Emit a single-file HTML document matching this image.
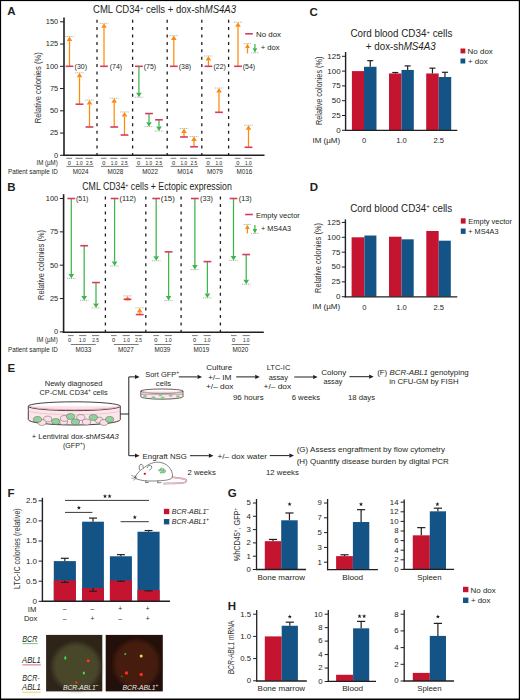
<!DOCTYPE html>
<html><head><meta charset="utf-8"><style>
html,body{margin:0;padding:0;background:#fff;}
svg{display:block;}
text{font-family:"Liberation Sans", sans-serif;}
</style></head><body>
<svg width="520" height="700" viewBox="0 0 520 700" fill="#231f20" font-family='"Liberation Sans", sans-serif'>
<rect x="0" y="0" width="520" height="700" fill="#fff"/>
<text x="7.20" y="15.34" font-size="11.5" font-weight="bold" >A</text>
<text x="93.00" y="13.40" font-size="10" textLength="143.00" lengthAdjust="spacingAndGlyphs" >CML CD34<tspan dy="-3.6" font-size="6.2">+</tspan><tspan dy="3.6"> cells + dox-sh</tspan><tspan font-style="italic">MS4A3</tspan></text>
<line x1="64.00" y1="17.50" x2="64.00" y2="155.80" stroke="#231f20" stroke-width="1.6" />
<line x1="63.20" y1="155.30" x2="264.50" y2="155.30" stroke="#231f20" stroke-width="1.6" />
<line x1="60.00" y1="155.30" x2="64.00" y2="155.30" stroke="#231f20" stroke-width="1" />
<text x="58.20" y="157.70" font-size="8" text-anchor="end" textLength="4.13" lengthAdjust="spacingAndGlyphs" >0</text>
<line x1="60.00" y1="133.05" x2="64.00" y2="133.05" stroke="#231f20" stroke-width="1" />
<text x="58.20" y="135.45" font-size="8" text-anchor="end" textLength="8.26" lengthAdjust="spacingAndGlyphs" >25</text>
<line x1="60.00" y1="110.80" x2="64.00" y2="110.80" stroke="#231f20" stroke-width="1" />
<text x="58.20" y="113.20" font-size="8" text-anchor="end" textLength="8.26" lengthAdjust="spacingAndGlyphs" >50</text>
<line x1="60.00" y1="88.55" x2="64.00" y2="88.55" stroke="#231f20" stroke-width="1" />
<text x="58.20" y="90.95" font-size="8" text-anchor="end" textLength="8.26" lengthAdjust="spacingAndGlyphs" >75</text>
<line x1="60.00" y1="66.30" x2="64.00" y2="66.30" stroke="#231f20" stroke-width="1" />
<text x="58.20" y="68.70" font-size="8" text-anchor="end" textLength="12.39" lengthAdjust="spacingAndGlyphs" >100</text>
<line x1="60.00" y1="44.05" x2="64.00" y2="44.05" stroke="#231f20" stroke-width="1" />
<text x="58.20" y="46.45" font-size="8" text-anchor="end" textLength="12.39" lengthAdjust="spacingAndGlyphs" >125</text>
<line x1="60.00" y1="21.80" x2="64.00" y2="21.80" stroke="#231f20" stroke-width="1" />
<text x="58.20" y="24.20" font-size="8" text-anchor="end" textLength="12.39" lengthAdjust="spacingAndGlyphs" >150</text>
<text x="37.50" y="90.82" font-size="8.4" text-anchor="middle" textLength="71.00" lengthAdjust="spacingAndGlyphs" fill="#333" transform="rotate(-90 37.50 87.80)" >Relative colonies (%)</text>
<line x1="97.00" y1="19.70" x2="97.00" y2="155.00" stroke="#231f20" stroke-width="1.3" stroke-dasharray="3 4.4"/>
<line x1="132.60" y1="19.70" x2="132.60" y2="155.00" stroke="#231f20" stroke-width="1.3" stroke-dasharray="3 4.4"/>
<line x1="167.20" y1="19.70" x2="167.20" y2="155.00" stroke="#231f20" stroke-width="1.3" stroke-dasharray="3 4.4"/>
<line x1="201.80" y1="19.70" x2="201.80" y2="155.00" stroke="#231f20" stroke-width="1.3" stroke-dasharray="3 4.4"/>
<line x1="228.60" y1="19.70" x2="228.60" y2="155.00" stroke="#231f20" stroke-width="1.3" stroke-dasharray="3 4.4"/>
<line x1="65.20" y1="36.49" x2="73.80" y2="36.49" stroke="#a0a0a0" stroke-width="0.8" stroke-dasharray="1.2 0.8"/>
<line x1="69.50" y1="66.30" x2="69.50" y2="40.99" stroke="#ff8a0a" stroke-width="1.25" />
<path d="M66.70,40.99 L72.30,40.99 L69.50,36.49 Z" fill="#ff8a0a"/>
<line x1="65.60" y1="66.30" x2="73.40" y2="66.30" stroke="#d93b60" stroke-width="1.6" />
<line x1="75.20" y1="72.80" x2="83.80" y2="72.80" stroke="#a0a0a0" stroke-width="0.8" stroke-dasharray="1.2 0.8"/>
<line x1="79.50" y1="104.21" x2="79.50" y2="77.30" stroke="#ff8a0a" stroke-width="1.25" />
<path d="M76.70,77.30 L82.30,77.30 L79.50,72.80 Z" fill="#ff8a0a"/>
<line x1="75.60" y1="104.21" x2="83.40" y2="104.21" stroke="#d93b60" stroke-width="1.6" />
<line x1="85.20" y1="100.03" x2="93.80" y2="100.03" stroke="#a0a0a0" stroke-width="0.8" stroke-dasharray="1.2 0.8"/>
<line x1="89.50" y1="127.00" x2="89.50" y2="104.53" stroke="#ff8a0a" stroke-width="1.25" />
<path d="M86.70,104.53 L92.30,104.53 L89.50,100.03 Z" fill="#ff8a0a"/>
<line x1="85.60" y1="127.00" x2="93.40" y2="127.00" stroke="#d93b60" stroke-width="1.6" />
<line x1="99.70" y1="23.31" x2="108.30" y2="23.31" stroke="#a0a0a0" stroke-width="0.8" stroke-dasharray="1.2 0.8"/>
<line x1="104.00" y1="66.30" x2="104.00" y2="27.81" stroke="#ff8a0a" stroke-width="1.25" />
<path d="M101.20,27.81 L106.80,27.81 L104.00,23.31 Z" fill="#ff8a0a"/>
<line x1="100.10" y1="66.30" x2="107.90" y2="66.30" stroke="#d93b60" stroke-width="1.6" />
<line x1="109.90" y1="98.25" x2="118.50" y2="98.25" stroke="#a0a0a0" stroke-width="0.8" stroke-dasharray="1.2 0.8"/>
<line x1="114.20" y1="127.00" x2="114.20" y2="102.75" stroke="#ff8a0a" stroke-width="1.25" />
<path d="M111.40,102.75 L117.00,102.75 L114.20,98.25 Z" fill="#ff8a0a"/>
<line x1="110.30" y1="127.00" x2="118.10" y2="127.00" stroke="#d93b60" stroke-width="1.6" />
<line x1="120.20" y1="111.96" x2="128.80" y2="111.96" stroke="#a0a0a0" stroke-width="0.8" stroke-dasharray="1.2 0.8"/>
<line x1="124.50" y1="135.01" x2="124.50" y2="116.46" stroke="#ff8a0a" stroke-width="1.25" />
<path d="M121.70,116.46 L127.30,116.46 L124.50,111.96 Z" fill="#ff8a0a"/>
<line x1="120.60" y1="135.01" x2="128.40" y2="135.01" stroke="#d93b60" stroke-width="1.6" />
<line x1="134.60" y1="97.18" x2="143.20" y2="97.18" stroke="#a0a0a0" stroke-width="0.8" stroke-dasharray="1.2 0.8"/>
<line x1="138.90" y1="66.30" x2="138.90" y2="92.68" stroke="#3cb54a" stroke-width="1.25" />
<path d="M136.10,92.68 L141.70,92.68 L138.90,97.18 Z" fill="#3cb54a"/>
<line x1="135.00" y1="66.30" x2="142.80" y2="66.30" stroke="#d93b60" stroke-width="1.6" />
<line x1="144.70" y1="126.64" x2="153.30" y2="126.64" stroke="#a0a0a0" stroke-width="0.8" stroke-dasharray="1.2 0.8"/>
<line x1="149.00" y1="113.56" x2="149.00" y2="122.14" stroke="#3cb54a" stroke-width="1.25" />
<path d="M146.20,122.14 L151.80,122.14 L149.00,126.64 Z" fill="#3cb54a"/>
<line x1="145.10" y1="113.56" x2="152.90" y2="113.56" stroke="#d93b60" stroke-width="1.6" />
<line x1="154.70" y1="131.00" x2="163.30" y2="131.00" stroke="#a0a0a0" stroke-width="0.8" stroke-dasharray="1.2 0.8"/>
<line x1="159.00" y1="119.79" x2="159.00" y2="126.50" stroke="#3cb54a" stroke-width="1.25" />
<path d="M156.20,126.50 L161.80,126.50 L159.00,131.00 Z" fill="#3cb54a"/>
<line x1="155.10" y1="119.79" x2="162.90" y2="119.79" stroke="#d93b60" stroke-width="1.6" />
<line x1="169.50" y1="35.60" x2="178.10" y2="35.60" stroke="#a0a0a0" stroke-width="0.8" stroke-dasharray="1.2 0.8"/>
<line x1="173.80" y1="66.30" x2="173.80" y2="40.10" stroke="#ff8a0a" stroke-width="1.25" />
<path d="M171.00,40.10 L176.60,40.10 L173.80,35.60 Z" fill="#ff8a0a"/>
<line x1="169.90" y1="66.30" x2="177.70" y2="66.30" stroke="#d93b60" stroke-width="1.6" />
<line x1="179.70" y1="128.51" x2="188.30" y2="128.51" stroke="#a0a0a0" stroke-width="0.8" stroke-dasharray="1.2 0.8"/>
<line x1="184.00" y1="136.97" x2="184.00" y2="133.01" stroke="#ff8a0a" stroke-width="1.25" />
<path d="M181.20,133.01 L186.80,133.01 L184.00,128.51 Z" fill="#ff8a0a"/>
<line x1="180.10" y1="136.97" x2="187.90" y2="136.97" stroke="#d93b60" stroke-width="1.6" />
<line x1="189.70" y1="136.52" x2="198.30" y2="136.52" stroke="#a0a0a0" stroke-width="0.8" stroke-dasharray="1.2 0.8"/>
<line x1="194.00" y1="146.76" x2="194.00" y2="141.02" stroke="#ff8a0a" stroke-width="1.25" />
<path d="M191.20,141.02 L196.80,141.02 L194.00,136.52 Z" fill="#ff8a0a"/>
<line x1="190.10" y1="146.76" x2="197.90" y2="146.76" stroke="#d93b60" stroke-width="1.6" />
<line x1="204.10" y1="55.98" x2="212.70" y2="55.98" stroke="#a0a0a0" stroke-width="0.8" stroke-dasharray="1.2 0.8"/>
<line x1="208.40" y1="66.30" x2="208.40" y2="60.48" stroke="#ff8a0a" stroke-width="1.25" />
<path d="M205.60,60.48 L211.20,60.48 L208.40,55.98 Z" fill="#ff8a0a"/>
<line x1="204.50" y1="66.30" x2="212.30" y2="66.30" stroke="#d93b60" stroke-width="1.6" />
<line x1="214.70" y1="88.02" x2="223.30" y2="88.02" stroke="#a0a0a0" stroke-width="0.8" stroke-dasharray="1.2 0.8"/>
<line x1="219.00" y1="112.31" x2="219.00" y2="92.52" stroke="#ff8a0a" stroke-width="1.25" />
<path d="M216.20,92.52 L221.80,92.52 L219.00,88.02 Z" fill="#ff8a0a"/>
<line x1="215.10" y1="112.31" x2="222.90" y2="112.31" stroke="#d93b60" stroke-width="1.6" />
<line x1="233.70" y1="22.25" x2="242.30" y2="22.25" stroke="#a0a0a0" stroke-width="0.8" stroke-dasharray="1.2 0.8"/>
<line x1="238.00" y1="66.30" x2="238.00" y2="26.75" stroke="#ff8a0a" stroke-width="1.25" />
<path d="M235.20,26.75 L240.80,26.75 L238.00,22.25 Z" fill="#ff8a0a"/>
<line x1="234.10" y1="66.30" x2="241.90" y2="66.30" stroke="#d93b60" stroke-width="1.6" />
<line x1="244.20" y1="125.22" x2="252.80" y2="125.22" stroke="#a0a0a0" stroke-width="0.8" stroke-dasharray="1.2 0.8"/>
<line x1="248.50" y1="147.29" x2="248.50" y2="129.72" stroke="#ff8a0a" stroke-width="1.25" />
<path d="M245.70,129.72 L251.30,129.72 L248.50,125.22 Z" fill="#ff8a0a"/>
<line x1="244.60" y1="147.29" x2="252.40" y2="147.29" stroke="#d93b60" stroke-width="1.6" />
<text x="74.60" y="68.96" font-size="7.4" textLength="12.40" lengthAdjust="spacingAndGlyphs" >(30)</text>
<text x="109.80" y="68.96" font-size="7.4" textLength="12.40" lengthAdjust="spacingAndGlyphs" >(74)</text>
<text x="143.70" y="68.96" font-size="7.4" textLength="12.40" lengthAdjust="spacingAndGlyphs" >(75)</text>
<text x="178.70" y="68.96" font-size="7.4" textLength="12.40" lengthAdjust="spacingAndGlyphs" >(38)</text>
<text x="213.50" y="68.96" font-size="7.4" textLength="12.40" lengthAdjust="spacingAndGlyphs" >(22)</text>
<text x="242.80" y="68.96" font-size="7.4" textLength="12.40" lengthAdjust="spacingAndGlyphs" >(54)</text>
<line x1="245.15" y1="33.80" x2="252.85" y2="33.80" stroke="#d93b60" stroke-width="1.6" />
<text x="256.00" y="37.01" font-size="7.8" textLength="25.00" lengthAdjust="spacingAndGlyphs" >No dox</text>
<line x1="243.70" y1="43.60" x2="251.30" y2="43.60" stroke="#a0a0a0" stroke-width="0.8" stroke-dasharray="1.2 0.8"/>
<line x1="247.50" y1="53.40" x2="247.50" y2="48.10" stroke="#ff8a0a" stroke-width="1.25" />
<path d="M245.20,48.10 L249.80,48.10 L247.50,43.60 Z" fill="#ff8a0a"/>
<line x1="251.10" y1="52.80" x2="258.70" y2="52.80" stroke="#a0a0a0" stroke-width="0.8" stroke-dasharray="1.2 0.8"/>
<line x1="254.90" y1="44.00" x2="254.90" y2="48.30" stroke="#3cb54a" stroke-width="1.25" />
<path d="M252.60,48.30 L257.20,48.30 L254.90,52.80 Z" fill="#3cb54a"/>
<text x="260.70" y="50.11" font-size="7.8" textLength="19.00" lengthAdjust="spacingAndGlyphs" >+ dox</text>
<text x="57.70" y="164.88" font-size="6.6" text-anchor="end" textLength="21.20" lengthAdjust="spacingAndGlyphs" >IM (µM)</text>
<text x="57.70" y="174.28" font-size="6.6" text-anchor="end" textLength="49.70" lengthAdjust="spacingAndGlyphs" >Patient sample ID</text>
<text x="69.30" y="164.53" font-size="6.2" text-anchor="middle" textLength="3.20" lengthAdjust="spacingAndGlyphs" >0</text>
<line x1="66.40" y1="158.30" x2="72.00" y2="158.30" stroke="#231f20" stroke-width="0.6" />
<text x="79.40" y="164.53" font-size="6.2" text-anchor="middle" textLength="6.60" lengthAdjust="spacingAndGlyphs" >1.0</text>
<line x1="75.50" y1="158.30" x2="82.70" y2="158.30" stroke="#231f20" stroke-width="0.6" />
<text x="89.40" y="164.53" font-size="6.2" text-anchor="middle" textLength="6.60" lengthAdjust="spacingAndGlyphs" >2.5</text>
<line x1="85.50" y1="158.30" x2="92.70" y2="158.30" stroke="#231f20" stroke-width="0.6" />
<line x1="66.40" y1="166.40" x2="93.60" y2="166.40" stroke="#231f20" stroke-width="0.6" />
<text x="80.70" y="173.80" font-size="6.4" text-anchor="middle" textLength="15.80" lengthAdjust="spacingAndGlyphs" >M024</text>
<text x="103.80" y="164.53" font-size="6.2" text-anchor="middle" textLength="3.20" lengthAdjust="spacingAndGlyphs" >0</text>
<line x1="100.90" y1="158.30" x2="106.50" y2="158.30" stroke="#231f20" stroke-width="0.6" />
<text x="114.10" y="164.53" font-size="6.2" text-anchor="middle" textLength="6.60" lengthAdjust="spacingAndGlyphs" >1.0</text>
<line x1="110.20" y1="158.30" x2="117.40" y2="158.30" stroke="#231f20" stroke-width="0.6" />
<text x="124.40" y="164.53" font-size="6.2" text-anchor="middle" textLength="6.60" lengthAdjust="spacingAndGlyphs" >2.5</text>
<line x1="120.50" y1="158.30" x2="127.70" y2="158.30" stroke="#231f20" stroke-width="0.6" />
<line x1="100.90" y1="166.40" x2="128.60" y2="166.40" stroke="#231f20" stroke-width="0.6" />
<text x="115.45" y="173.80" font-size="6.4" text-anchor="middle" textLength="15.80" lengthAdjust="spacingAndGlyphs" >M028</text>
<text x="138.70" y="164.53" font-size="6.2" text-anchor="middle" textLength="3.20" lengthAdjust="spacingAndGlyphs" >0</text>
<line x1="135.80" y1="158.30" x2="141.40" y2="158.30" stroke="#231f20" stroke-width="0.6" />
<text x="148.90" y="164.53" font-size="6.2" text-anchor="middle" textLength="6.60" lengthAdjust="spacingAndGlyphs" >1.0</text>
<line x1="145.00" y1="158.30" x2="152.20" y2="158.30" stroke="#231f20" stroke-width="0.6" />
<text x="158.90" y="164.53" font-size="6.2" text-anchor="middle" textLength="6.60" lengthAdjust="spacingAndGlyphs" >2.5</text>
<line x1="155.00" y1="158.30" x2="162.20" y2="158.30" stroke="#231f20" stroke-width="0.6" />
<line x1="135.80" y1="166.40" x2="163.10" y2="166.40" stroke="#231f20" stroke-width="0.6" />
<text x="150.15" y="173.80" font-size="6.4" text-anchor="middle" textLength="15.80" lengthAdjust="spacingAndGlyphs" >M022</text>
<text x="173.60" y="164.53" font-size="6.2" text-anchor="middle" textLength="3.20" lengthAdjust="spacingAndGlyphs" >0</text>
<line x1="170.70" y1="158.30" x2="176.30" y2="158.30" stroke="#231f20" stroke-width="0.6" />
<text x="183.90" y="164.53" font-size="6.2" text-anchor="middle" textLength="6.60" lengthAdjust="spacingAndGlyphs" >1.0</text>
<line x1="180.00" y1="158.30" x2="187.20" y2="158.30" stroke="#231f20" stroke-width="0.6" />
<text x="193.90" y="164.53" font-size="6.2" text-anchor="middle" textLength="6.60" lengthAdjust="spacingAndGlyphs" >2.5</text>
<line x1="190.00" y1="158.30" x2="197.20" y2="158.30" stroke="#231f20" stroke-width="0.6" />
<line x1="170.70" y1="166.40" x2="198.10" y2="166.40" stroke="#231f20" stroke-width="0.6" />
<text x="185.10" y="173.80" font-size="6.4" text-anchor="middle" textLength="15.80" lengthAdjust="spacingAndGlyphs" >M014</text>
<text x="208.20" y="164.53" font-size="6.2" text-anchor="middle" textLength="3.20" lengthAdjust="spacingAndGlyphs" >0</text>
<line x1="205.30" y1="158.30" x2="210.90" y2="158.30" stroke="#231f20" stroke-width="0.6" />
<text x="218.90" y="164.53" font-size="6.2" text-anchor="middle" textLength="6.60" lengthAdjust="spacingAndGlyphs" >1.0</text>
<line x1="215.00" y1="158.30" x2="222.20" y2="158.30" stroke="#231f20" stroke-width="0.6" />
<line x1="205.30" y1="166.40" x2="223.10" y2="166.40" stroke="#231f20" stroke-width="0.6" />
<text x="214.90" y="173.80" font-size="6.4" text-anchor="middle" textLength="15.80" lengthAdjust="spacingAndGlyphs" >M079</text>
<text x="237.80" y="164.53" font-size="6.2" text-anchor="middle" textLength="3.20" lengthAdjust="spacingAndGlyphs" >0</text>
<line x1="234.90" y1="158.30" x2="240.50" y2="158.30" stroke="#231f20" stroke-width="0.6" />
<text x="248.40" y="164.53" font-size="6.2" text-anchor="middle" textLength="6.60" lengthAdjust="spacingAndGlyphs" >1.0</text>
<line x1="244.50" y1="158.30" x2="251.70" y2="158.30" stroke="#231f20" stroke-width="0.6" />
<line x1="234.90" y1="166.40" x2="252.60" y2="166.40" stroke="#231f20" stroke-width="0.6" />
<text x="244.45" y="173.80" font-size="6.4" text-anchor="middle" textLength="15.80" lengthAdjust="spacingAndGlyphs" >M016</text>
<text x="7.20" y="190.64" font-size="11.5" font-weight="bold" >B</text>
<text x="82.30" y="190.40" font-size="10" textLength="149.50" lengthAdjust="spacingAndGlyphs" >CML CD34<tspan dy="-3.6" font-size="6.2">+</tspan><tspan dy="3.6"> cells + Ectopic expression</tspan></text>
<line x1="63.60" y1="194.20" x2="63.60" y2="332.80" stroke="#231f20" stroke-width="1.6" />
<line x1="62.80" y1="332.20" x2="263.80" y2="332.20" stroke="#231f20" stroke-width="1.6" />
<line x1="59.80" y1="331.90" x2="63.60" y2="331.90" stroke="#231f20" stroke-width="1" />
<text x="58.20" y="334.30" font-size="8" text-anchor="end" textLength="4.13" lengthAdjust="spacingAndGlyphs" >0</text>
<line x1="59.80" y1="298.55" x2="63.60" y2="298.55" stroke="#231f20" stroke-width="1" />
<text x="58.20" y="300.95" font-size="8" text-anchor="end" textLength="8.26" lengthAdjust="spacingAndGlyphs" >25</text>
<line x1="59.80" y1="265.20" x2="63.60" y2="265.20" stroke="#231f20" stroke-width="1" />
<text x="58.20" y="267.60" font-size="8" text-anchor="end" textLength="8.26" lengthAdjust="spacingAndGlyphs" >50</text>
<line x1="59.80" y1="231.85" x2="63.60" y2="231.85" stroke="#231f20" stroke-width="1" />
<text x="58.20" y="234.25" font-size="8" text-anchor="end" textLength="8.26" lengthAdjust="spacingAndGlyphs" >75</text>
<line x1="59.80" y1="198.50" x2="63.60" y2="198.50" stroke="#231f20" stroke-width="1" />
<text x="58.20" y="200.90" font-size="8" text-anchor="end" textLength="12.39" lengthAdjust="spacingAndGlyphs" >100</text>
<text x="41.00" y="268.02" font-size="8.4" text-anchor="middle" textLength="70.00" lengthAdjust="spacingAndGlyphs" fill="#333" transform="rotate(-90 41.00 265.00)" >Relative colonies (%)</text>
<line x1="105.40" y1="196.60" x2="105.40" y2="332.00" stroke="#231f20" stroke-width="1.3" stroke-dasharray="3 4.4"/>
<line x1="145.80" y1="196.60" x2="145.80" y2="332.00" stroke="#231f20" stroke-width="1.3" stroke-dasharray="3 4.4"/>
<line x1="181.10" y1="196.60" x2="181.10" y2="332.00" stroke="#231f20" stroke-width="1.3" stroke-dasharray="3 4.4"/>
<line x1="220.40" y1="196.60" x2="220.40" y2="332.00" stroke="#231f20" stroke-width="1.3" stroke-dasharray="3 4.4"/>
<line x1="67.00" y1="278.54" x2="75.60" y2="278.54" stroke="#a0a0a0" stroke-width="0.8" stroke-dasharray="1.2 0.8"/>
<line x1="71.30" y1="198.50" x2="71.30" y2="274.04" stroke="#3cb54a" stroke-width="1.25" />
<path d="M68.50,274.04 L74.10,274.04 L71.30,278.54 Z" fill="#3cb54a"/>
<line x1="67.40" y1="198.50" x2="75.20" y2="198.50" stroke="#d93b60" stroke-width="1.6" />
<line x1="79.90" y1="300.42" x2="88.50" y2="300.42" stroke="#a0a0a0" stroke-width="0.8" stroke-dasharray="1.2 0.8"/>
<line x1="84.20" y1="245.72" x2="84.20" y2="295.92" stroke="#3cb54a" stroke-width="1.25" />
<path d="M81.40,295.92 L87.00,295.92 L84.20,300.42 Z" fill="#3cb54a"/>
<line x1="80.30" y1="245.72" x2="88.10" y2="245.72" stroke="#d93b60" stroke-width="1.6" />
<line x1="91.70" y1="307.89" x2="100.30" y2="307.89" stroke="#a0a0a0" stroke-width="0.8" stroke-dasharray="1.2 0.8"/>
<line x1="96.00" y1="282.54" x2="96.00" y2="303.39" stroke="#3cb54a" stroke-width="1.25" />
<path d="M93.20,303.39 L98.80,303.39 L96.00,307.89 Z" fill="#3cb54a"/>
<line x1="92.10" y1="282.54" x2="99.90" y2="282.54" stroke="#d93b60" stroke-width="1.6" />
<line x1="110.30" y1="266.00" x2="118.90" y2="266.00" stroke="#a0a0a0" stroke-width="0.8" stroke-dasharray="1.2 0.8"/>
<line x1="114.60" y1="198.50" x2="114.60" y2="261.50" stroke="#3cb54a" stroke-width="1.25" />
<path d="M111.80,261.50 L117.40,261.50 L114.60,266.00 Z" fill="#3cb54a"/>
<line x1="110.70" y1="198.50" x2="118.50" y2="198.50" stroke="#d93b60" stroke-width="1.6" />
<line x1="123.20" y1="295.88" x2="131.80" y2="295.88" stroke="#a0a0a0" stroke-width="0.8" stroke-dasharray="1.2 0.8"/>
<line x1="127.50" y1="299.22" x2="127.50" y2="300.38" stroke="#ff8a0a" stroke-width="1.25" />
<path d="M124.70,300.38 L130.30,300.38 L127.50,295.88 Z" fill="#ff8a0a"/>
<line x1="123.60" y1="299.22" x2="131.40" y2="299.22" stroke="#d93b60" stroke-width="1.6" />
<line x1="135.40" y1="307.89" x2="144.00" y2="307.89" stroke="#a0a0a0" stroke-width="0.8" stroke-dasharray="1.2 0.8"/>
<line x1="139.70" y1="314.56" x2="139.70" y2="312.39" stroke="#ff8a0a" stroke-width="1.25" />
<path d="M136.90,312.39 L142.50,312.39 L139.70,307.89 Z" fill="#ff8a0a"/>
<line x1="135.80" y1="314.56" x2="143.60" y2="314.56" stroke="#d93b60" stroke-width="1.6" />
<line x1="151.90" y1="260.80" x2="160.50" y2="260.80" stroke="#a0a0a0" stroke-width="0.8" stroke-dasharray="1.2 0.8"/>
<line x1="156.20" y1="198.50" x2="156.20" y2="256.30" stroke="#3cb54a" stroke-width="1.25" />
<path d="M153.40,256.30 L159.00,256.30 L156.20,260.80 Z" fill="#3cb54a"/>
<line x1="152.30" y1="198.50" x2="160.10" y2="198.50" stroke="#d93b60" stroke-width="1.6" />
<line x1="164.30" y1="300.42" x2="172.90" y2="300.42" stroke="#a0a0a0" stroke-width="0.8" stroke-dasharray="1.2 0.8"/>
<line x1="168.60" y1="251.86" x2="168.60" y2="295.92" stroke="#3cb54a" stroke-width="1.25" />
<path d="M165.80,295.92 L171.40,295.92 L168.60,300.42 Z" fill="#3cb54a"/>
<line x1="164.70" y1="251.86" x2="172.50" y2="251.86" stroke="#d93b60" stroke-width="1.6" />
<line x1="190.60" y1="269.60" x2="199.20" y2="269.60" stroke="#a0a0a0" stroke-width="0.8" stroke-dasharray="1.2 0.8"/>
<line x1="194.90" y1="198.50" x2="194.90" y2="265.10" stroke="#3cb54a" stroke-width="1.25" />
<path d="M192.10,265.10 L197.70,265.10 L194.90,269.60 Z" fill="#3cb54a"/>
<line x1="191.00" y1="198.50" x2="198.80" y2="198.50" stroke="#d93b60" stroke-width="1.6" />
<line x1="203.10" y1="297.88" x2="211.70" y2="297.88" stroke="#a0a0a0" stroke-width="0.8" stroke-dasharray="1.2 0.8"/>
<line x1="207.40" y1="261.60" x2="207.40" y2="293.38" stroke="#3cb54a" stroke-width="1.25" />
<path d="M204.60,293.38 L210.20,293.38 L207.40,297.88 Z" fill="#3cb54a"/>
<line x1="203.50" y1="261.60" x2="211.30" y2="261.60" stroke="#d93b60" stroke-width="1.6" />
<line x1="229.20" y1="260.40" x2="237.80" y2="260.40" stroke="#a0a0a0" stroke-width="0.8" stroke-dasharray="1.2 0.8"/>
<line x1="233.50" y1="198.50" x2="233.50" y2="255.90" stroke="#3cb54a" stroke-width="1.25" />
<path d="M230.70,255.90 L236.30,255.90 L233.50,260.40 Z" fill="#3cb54a"/>
<line x1="229.60" y1="198.50" x2="237.40" y2="198.50" stroke="#d93b60" stroke-width="1.6" />
<line x1="241.90" y1="284.28" x2="250.50" y2="284.28" stroke="#a0a0a0" stroke-width="0.8" stroke-dasharray="1.2 0.8"/>
<line x1="246.20" y1="254.53" x2="246.20" y2="279.78" stroke="#3cb54a" stroke-width="1.25" />
<path d="M243.40,279.78 L249.00,279.78 L246.20,284.28 Z" fill="#3cb54a"/>
<line x1="242.30" y1="254.53" x2="250.10" y2="254.53" stroke="#d93b60" stroke-width="1.6" />
<text x="76.00" y="201.16" font-size="7.4" textLength="12.40" lengthAdjust="spacingAndGlyphs" >(51)</text>
<text x="119.50" y="201.16" font-size="7.4" textLength="16.50" lengthAdjust="spacingAndGlyphs" >(112)</text>
<text x="160.80" y="201.16" font-size="7.4" textLength="14.00" lengthAdjust="spacingAndGlyphs" >(15)</text>
<text x="200.00" y="201.16" font-size="7.4" textLength="13.00" lengthAdjust="spacingAndGlyphs" >(33)</text>
<text x="238.80" y="201.16" font-size="7.4" textLength="13.00" lengthAdjust="spacingAndGlyphs" >(13)</text>
<line x1="245.15" y1="214.50" x2="252.85" y2="214.50" stroke="#d93b60" stroke-width="1.6" />
<text x="255.90" y="217.81" font-size="7.8" textLength="44.00" lengthAdjust="spacingAndGlyphs" >Empty vector</text>
<line x1="243.60" y1="224.50" x2="251.20" y2="224.50" stroke="#a0a0a0" stroke-width="0.8" stroke-dasharray="1.2 0.8"/>
<line x1="247.40" y1="233.40" x2="247.40" y2="229.00" stroke="#ff8a0a" stroke-width="1.25" />
<path d="M245.10,229.00 L249.70,229.00 L247.40,224.50 Z" fill="#ff8a0a"/>
<line x1="251.10" y1="233.40" x2="258.70" y2="233.40" stroke="#a0a0a0" stroke-width="0.8" stroke-dasharray="1.2 0.8"/>
<line x1="254.90" y1="224.90" x2="254.90" y2="228.90" stroke="#3cb54a" stroke-width="1.25" />
<path d="M252.60,228.90 L257.20,228.90 L254.90,233.40 Z" fill="#3cb54a"/>
<text x="261.00" y="230.81" font-size="7.8" textLength="30.00" lengthAdjust="spacingAndGlyphs" >+ MS4A3</text>
<text x="57.70" y="341.88" font-size="6.6" text-anchor="end" textLength="21.20" lengthAdjust="spacingAndGlyphs" >IM (µM)</text>
<text x="57.70" y="351.98" font-size="6.6" text-anchor="end" textLength="49.70" lengthAdjust="spacingAndGlyphs" >Patient sample ID</text>
<text x="69.60" y="342.03" font-size="6.2" text-anchor="middle" textLength="3.20" lengthAdjust="spacingAndGlyphs" >0</text>
<line x1="68.00" y1="335.60" x2="73.60" y2="335.60" stroke="#231f20" stroke-width="0.6" />
<text x="82.40" y="342.03" font-size="6.2" text-anchor="middle" textLength="6.60" lengthAdjust="spacingAndGlyphs" >1.0</text>
<line x1="79.10" y1="335.60" x2="86.30" y2="335.60" stroke="#231f20" stroke-width="0.6" />
<text x="95.50" y="342.03" font-size="6.2" text-anchor="middle" textLength="6.60" lengthAdjust="spacingAndGlyphs" >2.5</text>
<line x1="92.00" y1="335.60" x2="99.20" y2="335.60" stroke="#231f20" stroke-width="0.6" />
<line x1="70.80" y1="344.50" x2="95.80" y2="344.50" stroke="#231f20" stroke-width="0.6" />
<text x="83.50" y="351.60" font-size="6.4" text-anchor="middle" textLength="15.80" lengthAdjust="spacingAndGlyphs" >M033</text>
<text x="113.50" y="342.03" font-size="6.2" text-anchor="middle" textLength="3.20" lengthAdjust="spacingAndGlyphs" >0</text>
<line x1="111.00" y1="335.60" x2="116.60" y2="335.60" stroke="#231f20" stroke-width="0.6" />
<text x="126.60" y="342.03" font-size="6.2" text-anchor="middle" textLength="6.60" lengthAdjust="spacingAndGlyphs" >1.0</text>
<line x1="122.60" y1="335.60" x2="129.80" y2="335.60" stroke="#231f20" stroke-width="0.6" />
<text x="138.60" y="342.03" font-size="6.2" text-anchor="middle" textLength="6.60" lengthAdjust="spacingAndGlyphs" >2.5</text>
<line x1="135.00" y1="335.60" x2="142.20" y2="335.60" stroke="#231f20" stroke-width="0.6" />
<line x1="113.90" y1="344.50" x2="138.60" y2="344.50" stroke="#231f20" stroke-width="0.6" />
<text x="126.00" y="351.60" font-size="6.4" text-anchor="middle" textLength="15.80" lengthAdjust="spacingAndGlyphs" >M027</text>
<text x="155.90" y="342.03" font-size="6.2" text-anchor="middle" textLength="3.20" lengthAdjust="spacingAndGlyphs" >0</text>
<line x1="153.40" y1="335.60" x2="159.00" y2="335.60" stroke="#231f20" stroke-width="0.6" />
<text x="168.30" y="342.03" font-size="6.2" text-anchor="middle" textLength="6.60" lengthAdjust="spacingAndGlyphs" >1.0</text>
<line x1="164.70" y1="335.60" x2="171.90" y2="335.60" stroke="#231f20" stroke-width="0.6" />
<line x1="154.50" y1="344.50" x2="171.40" y2="344.50" stroke="#231f20" stroke-width="0.6" />
<text x="162.50" y="351.60" font-size="6.4" text-anchor="middle" textLength="15.80" lengthAdjust="spacingAndGlyphs" >M039</text>
<text x="194.70" y="342.03" font-size="6.2" text-anchor="middle" textLength="3.20" lengthAdjust="spacingAndGlyphs" >0</text>
<line x1="192.10" y1="335.60" x2="197.70" y2="335.60" stroke="#231f20" stroke-width="0.6" />
<text x="207.20" y="342.03" font-size="6.2" text-anchor="middle" textLength="6.60" lengthAdjust="spacingAndGlyphs" >1.0</text>
<line x1="203.60" y1="335.60" x2="210.80" y2="335.60" stroke="#231f20" stroke-width="0.6" />
<line x1="193.70" y1="344.50" x2="209.50" y2="344.50" stroke="#231f20" stroke-width="0.6" />
<text x="201.30" y="351.60" font-size="6.4" text-anchor="middle" textLength="15.80" lengthAdjust="spacingAndGlyphs" >M019</text>
<text x="233.60" y="342.03" font-size="6.2" text-anchor="middle" textLength="3.20" lengthAdjust="spacingAndGlyphs" >0</text>
<line x1="231.00" y1="335.60" x2="236.60" y2="335.60" stroke="#231f20" stroke-width="0.6" />
<text x="246.20" y="342.03" font-size="6.2" text-anchor="middle" textLength="6.60" lengthAdjust="spacingAndGlyphs" >1.0</text>
<line x1="242.60" y1="335.60" x2="249.80" y2="335.60" stroke="#231f20" stroke-width="0.6" />
<line x1="231.70" y1="344.50" x2="249.70" y2="344.50" stroke="#231f20" stroke-width="0.6" />
<text x="240.40" y="351.60" font-size="6.4" text-anchor="middle" textLength="15.80" lengthAdjust="spacingAndGlyphs" >M020</text>
<text x="309.50" y="15.94" font-size="11.5" font-weight="bold" >C</text>
<text x="350.40" y="37.40" font-size="10" textLength="102.00" lengthAdjust="spacingAndGlyphs" >Cord blood CD34<tspan dy="-3.6" font-size="6.2">+</tspan><tspan dy="3.6"> cells</tspan></text>
<text x="365.80" y="49.50" font-size="10" textLength="70.00" lengthAdjust="spacingAndGlyphs" >+ dox-sh<tspan font-style="italic">MS4A3</tspan></text>
<rect x="351.90" y="71.10" width="12.10" height="59.20" fill="#c5142f"/>
<rect x="364.00" y="66.78" width="12.50" height="63.52" fill="#135386"/>
<line x1="370.25" y1="66.78" x2="370.25" y2="60.68" stroke="#231f20" stroke-width="1.2" />
<line x1="367.25" y1="60.68" x2="373.25" y2="60.68" stroke="#231f20" stroke-width="1.2" />
<rect x="389.00" y="73.47" width="12.50" height="56.83" fill="#c5142f"/>
<line x1="395.25" y1="73.47" x2="395.25" y2="72.52" stroke="#231f20" stroke-width="1.2" />
<line x1="392.25" y1="72.52" x2="398.25" y2="72.52" stroke="#231f20" stroke-width="1.2" />
<rect x="401.50" y="69.92" width="12.30" height="60.38" fill="#135386"/>
<line x1="407.65" y1="69.92" x2="407.65" y2="65.89" stroke="#231f20" stroke-width="1.2" />
<line x1="404.65" y1="65.89" x2="410.65" y2="65.89" stroke="#231f20" stroke-width="1.2" />
<rect x="426.20" y="73.47" width="12.50" height="56.83" fill="#c5142f"/>
<line x1="432.45" y1="73.47" x2="432.45" y2="68.14" stroke="#231f20" stroke-width="1.2" />
<line x1="429.45" y1="68.14" x2="435.45" y2="68.14" stroke="#231f20" stroke-width="1.2" />
<rect x="438.70" y="77.02" width="12.50" height="53.28" fill="#135386"/>
<line x1="444.95" y1="77.02" x2="444.95" y2="72.28" stroke="#231f20" stroke-width="1.2" />
<line x1="441.95" y1="72.28" x2="447.95" y2="72.28" stroke="#231f20" stroke-width="1.2" />
<line x1="345.60" y1="52.00" x2="345.60" y2="131.00" stroke="#231f20" stroke-width="1.4" />
<line x1="345.00" y1="130.40" x2="457.30" y2="130.40" stroke="#231f20" stroke-width="1.4" />
<line x1="342.00" y1="130.30" x2="345.60" y2="130.30" stroke="#231f20" stroke-width="1" />
<text x="340.60" y="132.70" font-size="8" text-anchor="end" >0</text>
<line x1="342.00" y1="115.50" x2="345.60" y2="115.50" stroke="#231f20" stroke-width="1" />
<text x="340.60" y="117.90" font-size="8" text-anchor="end" >25</text>
<line x1="342.00" y1="100.70" x2="345.60" y2="100.70" stroke="#231f20" stroke-width="1" />
<text x="340.60" y="103.10" font-size="8" text-anchor="end" >50</text>
<line x1="342.00" y1="85.90" x2="345.60" y2="85.90" stroke="#231f20" stroke-width="1" />
<text x="340.60" y="88.30" font-size="8" text-anchor="end" >75</text>
<line x1="342.00" y1="71.10" x2="345.60" y2="71.10" stroke="#231f20" stroke-width="1" />
<text x="340.60" y="73.50" font-size="8" text-anchor="end" >100</text>
<line x1="342.00" y1="56.30" x2="345.60" y2="56.30" stroke="#231f20" stroke-width="1" />
<text x="340.60" y="58.70" font-size="8" text-anchor="end" >125</text>
<text x="319.20" y="93.82" font-size="8.4" text-anchor="middle" textLength="68.30" lengthAdjust="spacingAndGlyphs" fill="#333" transform="rotate(-90 319.20 90.80)" >Relative colonies (%)</text>
<text x="364.00" y="142.54" font-size="7.6" text-anchor="middle" >0</text>
<text x="401.50" y="142.54" font-size="7.6" text-anchor="middle" >1.0</text>
<text x="438.70" y="142.54" font-size="7.6" text-anchor="middle" >2.5</text>
<text x="340.20" y="142.54" font-size="7.6" text-anchor="end" textLength="27.70" lengthAdjust="spacingAndGlyphs" >IM (µM)</text>
<rect x="460.50" y="48.50" width="4.80" height="4.90" fill="#c5142f"/>
<text x="467.60" y="53.81" font-size="7.8" textLength="25.20" lengthAdjust="spacingAndGlyphs" >No dox</text>
<rect x="460.50" y="58.50" width="4.80" height="5.00" fill="#135386"/>
<text x="468.00" y="63.81" font-size="7.8" textLength="19.70" lengthAdjust="spacingAndGlyphs" >+ dox</text>
<text x="309.80" y="191.34" font-size="11.5" font-weight="bold" >D</text>
<text x="350.20" y="211.90" font-size="10" textLength="102.00" lengthAdjust="spacingAndGlyphs" >Cord blood CD34<tspan dy="-3.6" font-size="6.2">+</tspan><tspan dy="3.6"> cells</tspan></text>
<rect x="351.60" y="237.30" width="12.80" height="59.40" fill="#c5142f"/>
<rect x="364.40" y="235.52" width="12.00" height="61.18" fill="#135386"/>
<rect x="389.00" y="236.71" width="12.50" height="59.99" fill="#c5142f"/>
<rect x="401.50" y="239.32" width="12.20" height="57.38" fill="#135386"/>
<rect x="426.30" y="231.00" width="12.40" height="65.70" fill="#c5142f"/>
<rect x="438.70" y="240.69" width="12.10" height="56.01" fill="#135386"/>
<line x1="345.40" y1="219.40" x2="345.40" y2="297.50" stroke="#231f20" stroke-width="1.4" />
<line x1="344.80" y1="296.90" x2="457.30" y2="296.90" stroke="#231f20" stroke-width="1.4" />
<line x1="341.80" y1="296.70" x2="345.40" y2="296.70" stroke="#231f20" stroke-width="1" />
<text x="340.40" y="299.10" font-size="8" text-anchor="end" >0</text>
<line x1="341.80" y1="281.85" x2="345.40" y2="281.85" stroke="#231f20" stroke-width="1" />
<text x="340.40" y="284.25" font-size="8" text-anchor="end" >25</text>
<line x1="341.80" y1="267.00" x2="345.40" y2="267.00" stroke="#231f20" stroke-width="1" />
<text x="340.40" y="269.40" font-size="8" text-anchor="end" >50</text>
<line x1="341.80" y1="252.15" x2="345.40" y2="252.15" stroke="#231f20" stroke-width="1" />
<text x="340.40" y="254.55" font-size="8" text-anchor="end" >75</text>
<line x1="341.80" y1="237.30" x2="345.40" y2="237.30" stroke="#231f20" stroke-width="1" />
<text x="340.40" y="239.70" font-size="8" text-anchor="end" >100</text>
<line x1="341.80" y1="222.45" x2="345.40" y2="222.45" stroke="#231f20" stroke-width="1" />
<text x="340.40" y="224.85" font-size="8" text-anchor="end" >125</text>
<text x="318.00" y="261.02" font-size="8.4" text-anchor="middle" textLength="70.00" lengthAdjust="spacingAndGlyphs" fill="#333" transform="rotate(-90 318.00 258.00)" >Relative colonies (%)</text>
<text x="364.40" y="309.74" font-size="7.6" text-anchor="middle" >0</text>
<text x="401.50" y="309.74" font-size="7.6" text-anchor="middle" >1.0</text>
<text x="438.70" y="309.74" font-size="7.6" text-anchor="middle" >2.5</text>
<text x="340.20" y="309.34" font-size="7.6" text-anchor="end" textLength="27.70" lengthAdjust="spacingAndGlyphs" >IM (µM)</text>
<rect x="460.80" y="218.30" width="4.80" height="5.30" fill="#c5142f"/>
<text x="468.30" y="224.01" font-size="7.8" textLength="43.70" lengthAdjust="spacingAndGlyphs" >Empty vector</text>
<rect x="460.80" y="228.50" width="4.80" height="5.40" fill="#135386"/>
<text x="468.30" y="233.81" font-size="7.8" textLength="30.20" lengthAdjust="spacingAndGlyphs" >+ MS4A3</text>
<text x="7.40" y="371.64" font-size="11.5" font-weight="bold" >E</text>
<text x="44.70" y="386.26" font-size="7.6" textLength="57.70" lengthAdjust="spacingAndGlyphs" >Newly diagnosed</text>
<text x="39.50" y="395.16" font-size="7.6" textLength="68.10" lengthAdjust="spacingAndGlyphs" >CP-CML CD34<tspan dy="-3" font-size="5">+</tspan><tspan dy="3"> cells</tspan></text>
<path d="M28.30,406.20 L28.30,419.60 A46.00,5.40 0 0 0 120.30,419.60 L120.30,406.20 Z" fill="#fbe6eb" stroke="#231f20" stroke-width="0.85"/>
<ellipse cx="74.30" cy="406.20" rx="46.00" ry="4.40" fill="#fff" stroke="#231f20" stroke-width="0.85"/>
<path d="M30.30,406.20 A44.00,3.52 0 0 0 118.30,406.20" fill="#fbe2e8" stroke="#eb9aad" stroke-width="0.9"/>
<path d="M28.30,410.20 A46.00,4.40 0 0 0 120.30,410.20" fill="none" stroke="#e8a5b4" stroke-width="0.5"/>
<ellipse cx="47.7" cy="419" rx="4.1" ry="2.9" fill="#fae0e6" stroke="#5a4a4e" stroke-width="0.45"/>
<ellipse cx="63.5" cy="421.8" rx="4.1" ry="2.9" fill="#fae0e6" stroke="#5a4a4e" stroke-width="0.45"/>
<ellipse cx="64.4" cy="418.4" rx="4.1" ry="2.9" fill="#fae0e6" stroke="#5a4a4e" stroke-width="0.45"/>
<ellipse cx="80.8" cy="417.5" rx="4.1" ry="2.9" fill="#fae0e6" stroke="#5a4a4e" stroke-width="0.45"/>
<ellipse cx="86.5" cy="422" rx="4.1" ry="2.9" fill="#fae0e6" stroke="#5a4a4e" stroke-width="0.45"/>
<ellipse cx="99" cy="420" rx="4.1" ry="2.9" fill="#fae0e6" stroke="#5a4a4e" stroke-width="0.45"/>
<ellipse cx="104" cy="422.5" rx="4.1" ry="2.9" fill="#fae0e6" stroke="#5a4a4e" stroke-width="0.45"/>
<ellipse cx="42" cy="422.5" rx="4.1" ry="2.9" fill="#fae0e6" stroke="#5a4a4e" stroke-width="0.45"/>
<ellipse cx="37.5" cy="419.4" rx="4.1" ry="2.9" fill="#8fd39c" stroke="#5a4a4e" stroke-width="0.45"/>
<ellipse cx="55.8" cy="421.5" rx="4.1" ry="2.9" fill="#8fd39c" stroke="#5a4a4e" stroke-width="0.45"/>
<ellipse cx="70.6" cy="416.5" rx="4.1" ry="2.9" fill="#8fd39c" stroke="#5a4a4e" stroke-width="0.45"/>
<ellipse cx="75.4" cy="421.9" rx="4.1" ry="2.9" fill="#8fd39c" stroke="#5a4a4e" stroke-width="0.45"/>
<ellipse cx="93.3" cy="417.5" rx="4.1" ry="2.9" fill="#8fd39c" stroke="#5a4a4e" stroke-width="0.45"/>
<ellipse cx="109.6" cy="419.4" rx="4.1" ry="2.9" fill="#8fd39c" stroke="#5a4a4e" stroke-width="0.45"/>
<text x="31.70" y="439.36" font-size="7.6" textLength="87.10" lengthAdjust="spacingAndGlyphs" >+ Lentiviral dox-sh<tspan font-style="italic">MS4A3</tspan></text>
<text x="62.90" y="447.96" font-size="7.6" textLength="22.10" lengthAdjust="spacingAndGlyphs" >(GFP<tspan dy="-3" font-size="5">+</tspan><tspan dy="3">)</tspan></text>
<line x1="120.30" y1="414.00" x2="128.80" y2="414.00" stroke="#231f20" stroke-width="1" />
<line x1="128.80" y1="376.90" x2="128.80" y2="455.70" stroke="#231f20" stroke-width="1" />
<line x1="128.80" y1="376.90" x2="135.00" y2="376.90" stroke="#231f20" stroke-width="1" />
<path d="M135.00,374.80 L139.60,376.90 L135.00,379.00 Z" fill="#231f20"/>
<line x1="128.80" y1="455.70" x2="135.00" y2="455.70" stroke="#231f20" stroke-width="1" />
<path d="M135.00,453.60 L139.60,455.70 L135.00,457.80 Z" fill="#231f20"/>
<text x="145.20" y="376.66" font-size="7.6" textLength="34.00" lengthAdjust="spacingAndGlyphs" >Sort GFP<tspan dy="-3" font-size="5">+</tspan><tspan dy="3"></tspan></text>
<text x="155.80" y="386.26" font-size="7.6" textLength="15.40" lengthAdjust="spacingAndGlyphs" >cells</text>
<path d="M140.80,391.10 L140.80,396.60 A21.10,2.60 0 0 0 183.00,396.60 L183.00,391.10 Z" fill="#fbe6eb" stroke="#231f20" stroke-width="0.7"/>
<ellipse cx="161.90" cy="391.10" rx="21.10" ry="2.10" fill="#fff" stroke="#231f20" stroke-width="0.7"/>
<path d="M141.80,391.40 A20.10,1.68 0 0 0 182.00,391.40" fill="#f9d3dc" stroke="#e2a0b0" stroke-width="0.5"/>
<line x1="141.30" y1="394.20" x2="182.50" y2="394.20" stroke="#8a6a70" stroke-width="0.6" />
<ellipse cx="145" cy="396.1" rx="1.9" ry="1.2" fill="#7fcf8a"/>
<ellipse cx="153.5" cy="397.5" rx="1.9" ry="1.2" fill="#7fcf8a"/>
<ellipse cx="160.4" cy="395" rx="1.9" ry="1.2" fill="#7fcf8a"/>
<ellipse cx="162.7" cy="397.7" rx="1.9" ry="1.2" fill="#7fcf8a"/>
<ellipse cx="170.7" cy="395.6" rx="1.9" ry="1.2" fill="#7fcf8a"/>
<ellipse cx="177.9" cy="396.4" rx="1.9" ry="1.2" fill="#7fcf8a"/>
<line x1="178.80" y1="376.90" x2="197.50" y2="376.90" stroke="#231f20" stroke-width="1" />
<path d="M197.50,374.80 L202.10,376.90 L197.50,379.00 Z" fill="#231f20"/>
<text x="206.30" y="370.26" font-size="7.6" textLength="26.00" lengthAdjust="spacingAndGlyphs" >Culture</text>
<text x="207.90" y="379.86" font-size="7.6" textLength="23.60" lengthAdjust="spacingAndGlyphs" >+/– IM</text>
<text x="206.00" y="389.26" font-size="7.6" textLength="27.50" lengthAdjust="spacingAndGlyphs" >+/– dox</text>
<line x1="236.20" y1="376.90" x2="255.20" y2="376.90" stroke="#231f20" stroke-width="1" />
<path d="M255.20,374.80 L259.80,376.90 L255.20,379.00 Z" fill="#231f20"/>
<text x="232.90" y="399.96" font-size="7.6" textLength="30.80" lengthAdjust="spacingAndGlyphs" >96 hours</text>
<text x="266.70" y="370.26" font-size="7.6" textLength="23.70" lengthAdjust="spacingAndGlyphs" >LTC-IC</text>
<text x="268.70" y="380.26" font-size="7.6" textLength="19.20" lengthAdjust="spacingAndGlyphs" >assay</text>
<text x="263.50" y="389.26" font-size="7.6" textLength="27.70" lengthAdjust="spacingAndGlyphs" >+/– dox</text>
<line x1="294.20" y1="377.00" x2="313.10" y2="377.00" stroke="#231f20" stroke-width="1" />
<path d="M313.10,374.90 L317.70,377.00 L313.10,379.10 Z" fill="#231f20"/>
<text x="321.20" y="375.46" font-size="7.6" textLength="25.00" lengthAdjust="spacingAndGlyphs" >Colony</text>
<text x="323.50" y="384.46" font-size="7.6" textLength="18.80" lengthAdjust="spacingAndGlyphs" >assay</text>
<text x="291.70" y="399.96" font-size="7.6" textLength="28.30" lengthAdjust="spacingAndGlyphs" >6 weeks</text>
<line x1="349.40" y1="376.70" x2="369.10" y2="376.70" stroke="#231f20" stroke-width="1" />
<path d="M369.10,374.60 L373.70,376.70 L369.10,378.80 Z" fill="#231f20"/>
<text x="377.20" y="375.06" font-size="7.6" textLength="91.50" lengthAdjust="spacingAndGlyphs" >(F) <tspan font-style="italic">BCR-ABL1</tspan> genotyping</text>
<text x="389.30" y="383.96" font-size="7.6" textLength="69.20" lengthAdjust="spacingAndGlyphs" >in CFU-GM by FISH</text>
<text x="348.00" y="399.86" font-size="7.6" textLength="27.00" lengthAdjust="spacingAndGlyphs" >18 days</text>
<text x="142.60" y="458.66" font-size="7.6" textLength="44.30" lengthAdjust="spacingAndGlyphs" >Engraft NSG</text>
<line x1="190.00" y1="455.70" x2="208.90" y2="455.70" stroke="#231f20" stroke-width="1" />
<path d="M208.90,453.60 L213.50,455.70 L208.90,457.80 Z" fill="#231f20"/>
<text x="217.50" y="458.56" font-size="7.6" textLength="49.50" lengthAdjust="spacingAndGlyphs" >+/– dox water</text>
<line x1="269.80" y1="455.60" x2="289.40" y2="455.60" stroke="#231f20" stroke-width="1" />
<path d="M289.40,453.50 L294.00,455.60 L289.40,457.70 Z" fill="#231f20"/>
<text x="296.70" y="452.36" font-size="7.6" textLength="148.30" lengthAdjust="spacingAndGlyphs" >(G) Assess engraftment by flow cytometry</text>
<text x="296.70" y="464.46" font-size="7.6" textLength="152.10" lengthAdjust="spacingAndGlyphs" >(H) Quantify disease burden by digital PCR</text>
<text x="187.60" y="474.56" font-size="7.6" textLength="28.20" lengthAdjust="spacingAndGlyphs" >2 weeks</text>
<text x="266.00" y="474.76" font-size="7.6" textLength="32.80" lengthAdjust="spacingAndGlyphs" >12 weeks</text>
<path d="M171,477.2 C176,478 182,478.3 185,479.3 C187.5,480.4 186.5,482.6 183,482.9 C178,483.3 170,483.4 164,483.6" fill="none" stroke="#c98795" stroke-width="1.7" stroke-linecap="round"/>
<path d="M171,477.2 C176,478 182,478.3 185,479.3 C187.5,480.4 186.5,482.6 183,482.9 C178,483.3 170,483.4 164,483.6" fill="none" stroke="#f6e3e7" stroke-width="0.7" stroke-linecap="round"/>
<g fill="#fff" stroke="#231f20" stroke-width="0.55" stroke-linejoin="round" stroke-linecap="round">
<path d="M134.8,477.6 C136.5,474 139.5,470.5 143,468.5 C147,465 152,462.3 157,462.2 C164,462 169.5,466 171.5,471 C173,474.5 172.8,477.5 171,478.8 C167,480.6 160,480.8 153,481 C147,481.2 141,480.5 137.5,479.2 C136,478.8 135,478.3 134.8,477.6 Z"/>
<path d="M139.6,469.8 C138.6,466.8 139.3,464.6 141.1,464.3 C142.6,464.1 143.4,466.2 143.2,468.2"/>
<path d="M147.2,467.8 C147.4,465.6 149.8,464.8 151.4,466 C152.3,467.6 151.3,469.4 149.6,470.1"/>
<path d="M146,481 L145.5,482.6 L148.5,482.4 M158,481 L157.5,482.8 L161,482.6" fill="none"/>
<path d="M136,476.5 L131.5,475.6 M136.2,477.3 L131.8,478.4 M136.8,478 L133.4,480.2" fill="none" stroke-width="0.4"/>
</g>
<circle cx="144.8" cy="473.8" r="1.15" fill="#e0101c"/>
<g fill="#86c28c"><circle cx="159.6" cy="470.3" r="1.3"/><circle cx="161.5" cy="468.6" r="1.2"/><circle cx="163.6" cy="469.4" r="1.2"/><circle cx="165.2" cy="471" r="1.1"/><circle cx="163.4" cy="472.3" r="1.3"/><circle cx="160.9" cy="472.6" r="1.1"/><circle cx="162.2" cy="470.7" r="1.3"/></g>
<g fill="#4f9a5a"><circle cx="160.6" cy="469.5" r="0.5"/><circle cx="163.8" cy="470.6" r="0.5"/><circle cx="162" cy="472.6" r="0.45"/><circle cx="165" cy="472.3" r="0.4"/></g>

<text x="7.60" y="497.34" font-size="11.5" font-weight="bold" >F</text>
<rect x="53.80" y="561.10" width="22.10" height="40.20" fill="#135386"/>
<rect x="53.80" y="580.40" width="22.10" height="20.90" fill="#c5142f"/>
<line x1="64.85" y1="561.10" x2="64.85" y2="558.29" stroke="#231f20" stroke-width="1.2" />
<line x1="60.85" y1="558.29" x2="68.85" y2="558.29" stroke="#231f20" stroke-width="1.2" />
<line x1="64.85" y1="580.40" x2="64.85" y2="582.41" stroke="#231f20" stroke-width="1.2" />
<line x1="60.85" y1="582.41" x2="68.85" y2="582.41" stroke="#231f20" stroke-width="1.2" />
<rect x="82.10" y="521.70" width="21.80" height="79.60" fill="#135386"/>
<rect x="82.10" y="588.03" width="21.80" height="13.27" fill="#c5142f"/>
<line x1="93.00" y1="521.70" x2="93.00" y2="518.09" stroke="#231f20" stroke-width="1.2" />
<line x1="89.00" y1="518.09" x2="97.00" y2="518.09" stroke="#231f20" stroke-width="1.2" />
<line x1="93.00" y1="588.03" x2="93.00" y2="591.25" stroke="#231f20" stroke-width="1.2" />
<line x1="89.00" y1="591.25" x2="97.00" y2="591.25" stroke="#231f20" stroke-width="1.2" />
<rect x="109.90" y="556.28" width="22.00" height="45.02" fill="#135386"/>
<rect x="109.90" y="580.40" width="22.00" height="20.90" fill="#c5142f"/>
<line x1="120.90" y1="556.28" x2="120.90" y2="554.67" stroke="#231f20" stroke-width="1.2" />
<line x1="116.90" y1="554.67" x2="124.90" y2="554.67" stroke="#231f20" stroke-width="1.2" />
<line x1="120.90" y1="580.40" x2="120.90" y2="581.20" stroke="#231f20" stroke-width="1.2" />
<line x1="116.90" y1="581.20" x2="124.90" y2="581.20" stroke="#231f20" stroke-width="1.2" />
<rect x="137.50" y="531.75" width="22.10" height="69.55" fill="#135386"/>
<rect x="137.50" y="590.04" width="22.10" height="11.26" fill="#c5142f"/>
<line x1="148.55" y1="531.75" x2="148.55" y2="530.55" stroke="#231f20" stroke-width="1.2" />
<line x1="144.55" y1="530.55" x2="152.55" y2="530.55" stroke="#231f20" stroke-width="1.2" />
<line x1="148.55" y1="590.04" x2="148.55" y2="590.85" stroke="#231f20" stroke-width="1.2" />
<line x1="144.55" y1="590.85" x2="152.55" y2="590.85" stroke="#231f20" stroke-width="1.2" />
<line x1="42.40" y1="497.80" x2="42.40" y2="602.00" stroke="#231f20" stroke-width="1.4" />
<line x1="41.80" y1="601.30" x2="170.00" y2="601.30" stroke="#231f20" stroke-width="1.4" />
<line x1="38.60" y1="601.30" x2="42.40" y2="601.30" stroke="#231f20" stroke-width="1" />
<text x="37.00" y="603.70" font-size="8" text-anchor="end" >0</text>
<line x1="38.60" y1="581.20" x2="42.40" y2="581.20" stroke="#231f20" stroke-width="1" />
<text x="37.00" y="583.60" font-size="8" text-anchor="end" >0.5</text>
<line x1="38.60" y1="561.10" x2="42.40" y2="561.10" stroke="#231f20" stroke-width="1" />
<text x="37.00" y="563.50" font-size="8" text-anchor="end" >1.0</text>
<line x1="38.60" y1="541.00" x2="42.40" y2="541.00" stroke="#231f20" stroke-width="1" />
<text x="37.00" y="543.40" font-size="8" text-anchor="end" >1.5</text>
<line x1="38.60" y1="520.90" x2="42.40" y2="520.90" stroke="#231f20" stroke-width="1" />
<text x="37.00" y="523.30" font-size="8" text-anchor="end" >2.0</text>
<line x1="38.60" y1="500.80" x2="42.40" y2="500.80" stroke="#231f20" stroke-width="1" />
<text x="37.00" y="503.20" font-size="8" text-anchor="end" >2.5</text>
<text x="16.50" y="551.62" font-size="8.4" text-anchor="middle" textLength="80.70" lengthAdjust="spacingAndGlyphs" fill="#333" transform="rotate(-90 16.50 548.60)" >LTC-IC colonies (relative)</text>
<line x1="65.00" y1="500.40" x2="149.00" y2="500.40" stroke="#231f20" stroke-width="0.9" />
<polygon points="105.00,494.10 105.56,495.48 107.04,495.59 105.90,496.54 106.26,497.99 105.00,497.20 103.74,497.99 104.10,496.54 102.96,495.59 104.44,495.48" fill="#231f20"/>
<polygon points="109.60,494.10 110.16,495.48 111.64,495.59 110.50,496.54 110.86,497.99 109.60,497.20 108.34,497.99 108.70,496.54 107.56,495.59 109.04,495.48" fill="#231f20"/>
<line x1="65.00" y1="512.40" x2="92.40" y2="512.40" stroke="#231f20" stroke-width="0.9" />
<polygon points="78.90,505.60 79.46,506.98 80.94,507.09 79.80,508.04 80.16,509.49 78.90,508.70 77.64,509.49 78.00,508.04 76.86,507.09 78.34,506.98" fill="#231f20"/>
<line x1="120.60" y1="521.70" x2="148.80" y2="521.70" stroke="#231f20" stroke-width="0.9" />
<polygon points="134.80,515.10 135.36,516.48 136.84,516.59 135.70,517.54 136.06,518.99 134.80,518.20 133.54,518.99 133.90,517.54 132.76,516.59 134.24,516.48" fill="#231f20"/>
<rect x="163.90" y="508.80" width="5.40" height="5.40" fill="#c5142f"/>
<text x="171.70" y="514.31" font-size="7.8" textLength="37.20" lengthAdjust="spacingAndGlyphs" font-style="italic" >BCR-ABL1<tspan dy="-3" font-size="5">–</tspan></text>
<rect x="163.90" y="519.00" width="5.40" height="5.40" fill="#135386"/>
<text x="171.70" y="524.01" font-size="7.8" textLength="37.20" lengthAdjust="spacingAndGlyphs" font-style="italic" >BCR-ABL1<tspan dy="-3" font-size="5">+</tspan></text>
<text x="36.30" y="611.74" font-size="7.6" text-anchor="end" >IM</text>
<text x="37.40" y="621.14" font-size="7.6" text-anchor="end" >Dox</text>
<text x="64.70" y="611.38" font-size="6.6" text-anchor="middle" >–</text>
<text x="64.70" y="620.78" font-size="6.6" text-anchor="middle" >–</text>
<text x="92.40" y="611.38" font-size="6.6" text-anchor="middle" >–</text>
<text x="92.40" y="620.78" font-size="6.6" text-anchor="middle" >+</text>
<text x="120.10" y="611.38" font-size="6.6" text-anchor="middle" >+</text>
<text x="120.10" y="620.78" font-size="6.6" text-anchor="middle" >–</text>
<text x="147.80" y="611.38" font-size="6.6" text-anchor="middle" >+</text>
<text x="147.80" y="620.78" font-size="6.6" text-anchor="middle" >+</text>
<defs>
<radialGradient id="c1" cx="0.5" cy="0.5" r="0.5"><stop offset="0" stop-color="#4c4a2a"/><stop offset="0.8" stop-color="#48442a"/><stop offset="1" stop-color="#2e2418"/></radialGradient>
<radialGradient id="c2" cx="0.5" cy="0.5" r="0.5"><stop offset="0" stop-color="#48200f"/><stop offset="0.8" stop-color="#441d0e"/><stop offset="1" stop-color="#2a1208"/></radialGradient>
<filter id="bl" x="-80%" y="-80%" width="260%" height="260%"><feGaussianBlur stdDeviation="0.55"/></filter>
<filter id="bc" x="-30%" y="-30%" width="160%" height="160%"><feGaussianBlur stdDeviation="2.2"/></filter>
</defs>
<rect x="46.10" y="634.90" width="56.20" height="56.50" fill="#2e2418"/>
<ellipse cx="76.3" cy="666.6" rx="24" ry="23.5" fill="#4a462a" filter="url(#bc)"/>
<ellipse cx="65.3" cy="658" rx="1.0" ry="1.7" fill="#3de85a" filter="url(#bl)"/>
<ellipse cx="88.2" cy="660.8" rx="1.5" ry="1.5" fill="#ff3a1a" filter="url(#bl)"/>
<ellipse cx="83.8" cy="673" rx="1.0" ry="1.6" fill="#3de85a" filter="url(#bl)"/>
<ellipse cx="76.3" cy="682.5" rx="1.2" ry="1.1" fill="#ff3a1a" filter="url(#bl)"/>
<rect x="105.70" y="634.90" width="57.10" height="56.50" fill="#24100a"/>
<ellipse cx="136.5" cy="664" rx="23" ry="24" fill="#451d0e" filter="url(#bc)"/>
<ellipse cx="125.3" cy="654" rx="1.0" ry="1.0" fill="#3dc050" filter="url(#bl)"/>
<ellipse cx="141.2" cy="655.9" rx="1.5" ry="1.5" fill="#ffd83a" filter="url(#bl)"/>
<ellipse cx="126.5" cy="673" rx="1.7" ry="1.7" fill="#ff2a1a" filter="url(#bl)"/>
<ellipse cx="141.2" cy="674.5" rx="1.7" ry="1.7" fill="#ff2a1a" filter="url(#bl)"/>
<ellipse cx="121.9" cy="676.4" rx="0.7" ry="0.7" fill="#3da050" filter="url(#bl)"/>
<ellipse cx="162.3" cy="647" rx="0.6" ry="0.6" fill="#c02010" filter="url(#bl)"/>
<text x="63.00" y="689.72" font-size="7" textLength="35.20" lengthAdjust="spacingAndGlyphs" fill="#eee" font-style="italic" >BCR-ABL1<tspan dy="-2.8" font-size="4.6">–</tspan></text>
<text x="122.50" y="689.72" font-size="7" textLength="35.70" lengthAdjust="spacingAndGlyphs" fill="#eee" font-style="italic" >BCR-ABL1<tspan dy="-2.8" font-size="4.6">+</tspan></text>
<text x="22.30" y="641.80" font-size="8.5" textLength="15.20" lengthAdjust="spacingAndGlyphs" font-style="italic" >BCR</text>
<line x1="22.30" y1="643.60" x2="37.60" y2="643.60" stroke="#3cb84e" stroke-width="0.75" />
<text x="22.10" y="662.80" font-size="8.5" textLength="18.80" lengthAdjust="spacingAndGlyphs" font-style="italic" >ABL1</text>
<line x1="22.30" y1="664.90" x2="40.80" y2="664.90" stroke="#d8324f" stroke-width="0.75" />
<text x="22.30" y="680.60" font-size="8.5" textLength="17.40" lengthAdjust="spacingAndGlyphs" font-style="italic" >BCR-</text>
<text x="22.10" y="690.20" font-size="8.5" textLength="18.80" lengthAdjust="spacingAndGlyphs" font-style="italic" >ABL1</text>
<line x1="22.30" y1="692.20" x2="40.80" y2="692.20" stroke="#f6c02a" stroke-width="0.75" />
<text x="227.80" y="497.34" font-size="11.5" font-weight="bold" >G</text>
<text x="236.70" y="537.52" font-size="8.4" text-anchor="middle" textLength="53.60" lengthAdjust="spacingAndGlyphs" fill="#333" transform="rotate(-90 236.70 534.50)" >%hCD45<tspan dy="-3" font-size="5">+</tspan><tspan dy="3">, GFP</tspan><tspan dy="-3" font-size="5.6">+</tspan></text>
<rect x="264.80" y="541.17" width="16.40" height="28.33" fill="#c5142f"/>
<line x1="273.00" y1="541.17" x2="273.00" y2="539.44" stroke="#231f20" stroke-width="1.2" />
<line x1="268.90" y1="539.44" x2="277.10" y2="539.44" stroke="#231f20" stroke-width="1.2" />
<rect x="281.20" y="520.29" width="16.50" height="49.21" fill="#135386"/>
<line x1="289.45" y1="520.29" x2="289.45" y2="512.98" stroke="#231f20" stroke-width="1.2" />
<line x1="285.35" y1="512.98" x2="293.55" y2="512.98" stroke="#231f20" stroke-width="1.2" />
<line x1="256.50" y1="499.00" x2="256.50" y2="570.10" stroke="#231f20" stroke-width="1.3" />
<line x1="255.90" y1="569.50" x2="306.00" y2="569.50" stroke="#231f20" stroke-width="1.3" />
<line x1="252.90" y1="569.50" x2="256.50" y2="569.50" stroke="#231f20" stroke-width="1" />
<text x="250.80" y="571.84" font-size="7.8" text-anchor="end" >0</text>
<line x1="252.90" y1="556.20" x2="256.50" y2="556.20" stroke="#231f20" stroke-width="1" />
<text x="250.80" y="558.54" font-size="7.8" text-anchor="end" >1</text>
<line x1="252.90" y1="542.90" x2="256.50" y2="542.90" stroke="#231f20" stroke-width="1" />
<text x="250.80" y="545.24" font-size="7.8" text-anchor="end" >2</text>
<line x1="252.90" y1="529.60" x2="256.50" y2="529.60" stroke="#231f20" stroke-width="1" />
<text x="250.80" y="531.94" font-size="7.8" text-anchor="end" >3</text>
<line x1="252.90" y1="516.30" x2="256.50" y2="516.30" stroke="#231f20" stroke-width="1" />
<text x="250.80" y="518.64" font-size="7.8" text-anchor="end" >4</text>
<line x1="252.90" y1="503.00" x2="256.50" y2="503.00" stroke="#231f20" stroke-width="1" />
<text x="250.80" y="505.34" font-size="7.8" text-anchor="end" >5</text>
<polygon points="289.60,502.00 290.16,503.38 291.64,503.49 290.50,504.44 290.86,505.89 289.60,505.10 288.34,505.89 288.70,504.44 287.56,503.49 289.04,503.38" fill="#231f20"/>
<text x="281.25" y="579.58" font-size="8" text-anchor="middle" textLength="47.60" lengthAdjust="spacingAndGlyphs" >Bone marrow</text>
<rect x="336.10" y="556.13" width="16.80" height="13.47" fill="#c5142f"/>
<line x1="344.50" y1="556.13" x2="344.50" y2="554.80" stroke="#231f20" stroke-width="1.2" />
<line x1="340.40" y1="554.80" x2="348.60" y2="554.80" stroke="#231f20" stroke-width="1.2" />
<rect x="352.90" y="522.02" width="16.40" height="47.58" fill="#135386"/>
<line x1="361.10" y1="522.02" x2="361.10" y2="509.66" stroke="#231f20" stroke-width="1.2" />
<line x1="357.00" y1="509.66" x2="365.20" y2="509.66" stroke="#231f20" stroke-width="1.2" />
<line x1="327.60" y1="499.00" x2="327.60" y2="570.20" stroke="#231f20" stroke-width="1.3" />
<line x1="327.00" y1="569.60" x2="377.90" y2="569.60" stroke="#231f20" stroke-width="1.3" />
<line x1="324.00" y1="562.20" x2="327.60" y2="562.20" stroke="#231f20" stroke-width="1" />
<text x="321.90" y="564.54" font-size="7.8" text-anchor="end" >1</text>
<line x1="324.00" y1="547.40" x2="327.60" y2="547.40" stroke="#231f20" stroke-width="1" />
<text x="321.90" y="549.74" font-size="7.8" text-anchor="end" >3</text>
<line x1="324.00" y1="532.60" x2="327.60" y2="532.60" stroke="#231f20" stroke-width="1" />
<text x="321.90" y="534.94" font-size="7.8" text-anchor="end" >5</text>
<line x1="324.00" y1="517.80" x2="327.60" y2="517.80" stroke="#231f20" stroke-width="1" />
<text x="321.90" y="520.14" font-size="7.8" text-anchor="end" >7</text>
<line x1="324.00" y1="503.00" x2="327.60" y2="503.00" stroke="#231f20" stroke-width="1" />
<text x="321.90" y="505.34" font-size="7.8" text-anchor="end" >9</text>
<polygon points="361.00,502.10 361.56,503.48 363.04,503.59 361.90,504.54 362.26,505.99 361.00,505.20 359.74,505.99 360.10,504.54 358.96,503.59 360.44,503.48" fill="#231f20"/>
<text x="352.70" y="579.58" font-size="8" text-anchor="middle" textLength="21.00" lengthAdjust="spacingAndGlyphs" >Blood</text>
<rect x="412.80" y="535.32" width="17.00" height="34.08" fill="#c5142f"/>
<line x1="421.30" y1="535.32" x2="421.30" y2="527.64" stroke="#231f20" stroke-width="1.2" />
<line x1="417.20" y1="527.64" x2="425.40" y2="527.64" stroke="#231f20" stroke-width="1.2" />
<rect x="429.80" y="511.32" width="16.20" height="58.08" fill="#135386"/>
<line x1="437.90" y1="511.32" x2="437.90" y2="508.20" stroke="#231f20" stroke-width="1.2" />
<line x1="433.80" y1="508.20" x2="442.00" y2="508.20" stroke="#231f20" stroke-width="1.2" />
<line x1="404.20" y1="499.40" x2="404.20" y2="570.00" stroke="#231f20" stroke-width="1.3" />
<line x1="403.60" y1="569.40" x2="454.00" y2="569.40" stroke="#231f20" stroke-width="1.3" />
<line x1="400.60" y1="569.40" x2="404.20" y2="569.40" stroke="#231f20" stroke-width="1" />
<text x="398.50" y="571.74" font-size="7.8" text-anchor="end" >0</text>
<line x1="400.60" y1="559.80" x2="404.20" y2="559.80" stroke="#231f20" stroke-width="1" />
<text x="398.50" y="562.14" font-size="7.8" text-anchor="end" >2</text>
<line x1="400.60" y1="550.20" x2="404.20" y2="550.20" stroke="#231f20" stroke-width="1" />
<text x="398.50" y="552.54" font-size="7.8" text-anchor="end" >4</text>
<line x1="400.60" y1="540.60" x2="404.20" y2="540.60" stroke="#231f20" stroke-width="1" />
<text x="398.50" y="542.94" font-size="7.8" text-anchor="end" >6</text>
<line x1="400.60" y1="531.00" x2="404.20" y2="531.00" stroke="#231f20" stroke-width="1" />
<text x="398.50" y="533.34" font-size="7.8" text-anchor="end" >8</text>
<line x1="400.60" y1="521.40" x2="404.20" y2="521.40" stroke="#231f20" stroke-width="1" />
<text x="398.50" y="523.74" font-size="7.8" text-anchor="end" >10</text>
<line x1="400.60" y1="511.80" x2="404.20" y2="511.80" stroke="#231f20" stroke-width="1" />
<text x="398.50" y="514.14" font-size="7.8" text-anchor="end" >12</text>
<line x1="400.60" y1="502.20" x2="404.20" y2="502.20" stroke="#231f20" stroke-width="1" />
<text x="398.50" y="504.54" font-size="7.8" text-anchor="end" >14</text>
<polygon points="437.40,502.10 437.96,503.48 439.44,503.59 438.30,504.54 438.66,505.99 437.40,505.20 436.14,505.99 436.50,504.54 435.36,503.59 436.84,503.48" fill="#231f20"/>
<text x="429.40" y="579.58" font-size="8" text-anchor="middle" textLength="24.40" lengthAdjust="spacingAndGlyphs" >Spleen</text>
<text x="227.80" y="610.24" font-size="11.5" font-weight="bold" >H</text>
<text x="230.80" y="650.35" font-size="8.2" text-anchor="middle" textLength="53.80" lengthAdjust="spacingAndGlyphs" fill="#333" transform="rotate(-90 230.80 647.40)" ><tspan font-style="italic">BCR-ABL1</tspan> mRNA</text>
<rect x="264.80" y="636.40" width="16.90" height="44.40" fill="#c5142f"/>
<rect x="281.70" y="625.74" width="16.20" height="55.06" fill="#135386"/>
<line x1="289.80" y1="625.74" x2="289.80" y2="622.19" stroke="#231f20" stroke-width="1.2" />
<line x1="285.70" y1="622.19" x2="293.90" y2="622.19" stroke="#231f20" stroke-width="1.2" />
<line x1="256.70" y1="610.00" x2="256.70" y2="681.60" stroke="#231f20" stroke-width="1.3" />
<line x1="256.10" y1="681.00" x2="306.80" y2="681.00" stroke="#231f20" stroke-width="1.3" />
<line x1="253.10" y1="680.80" x2="256.70" y2="680.80" stroke="#231f20" stroke-width="1" />
<text x="251.00" y="683.14" font-size="7.8" text-anchor="end" >0</text>
<line x1="253.10" y1="658.60" x2="256.70" y2="658.60" stroke="#231f20" stroke-width="1" />
<text x="251.00" y="660.94" font-size="7.8" text-anchor="end" >0.5</text>
<line x1="253.10" y1="636.40" x2="256.70" y2="636.40" stroke="#231f20" stroke-width="1" />
<text x="251.00" y="638.74" font-size="7.8" text-anchor="end" >1.0</text>
<line x1="253.10" y1="614.20" x2="256.70" y2="614.20" stroke="#231f20" stroke-width="1" />
<text x="251.00" y="616.54" font-size="7.8" text-anchor="end" >1.5</text>
<polygon points="289.80,614.50 290.36,615.88 291.84,615.99 290.70,616.94 291.06,618.39 289.80,617.60 288.54,618.39 288.90,616.94 287.76,615.99 289.24,615.88" fill="#231f20"/>
<text x="281.35" y="691.08" font-size="8" text-anchor="middle" textLength="47.60" lengthAdjust="spacingAndGlyphs" >Bone marrow</text>
<rect x="336.10" y="674.77" width="17.00" height="6.73" fill="#c5142f"/>
<rect x="353.10" y="628.33" width="16.10" height="53.17" fill="#135386"/>
<line x1="361.15" y1="628.33" x2="361.15" y2="621.40" stroke="#231f20" stroke-width="1.2" />
<line x1="357.05" y1="621.40" x2="365.25" y2="621.40" stroke="#231f20" stroke-width="1.2" />
<line x1="328.30" y1="610.00" x2="328.30" y2="681.90" stroke="#231f20" stroke-width="1.3" />
<line x1="327.70" y1="681.30" x2="376.00" y2="681.30" stroke="#231f20" stroke-width="1.3" />
<line x1="324.70" y1="681.50" x2="328.30" y2="681.50" stroke="#231f20" stroke-width="1" />
<text x="322.60" y="683.84" font-size="7.8" text-anchor="end" >0</text>
<line x1="324.70" y1="668.04" x2="328.30" y2="668.04" stroke="#231f20" stroke-width="1" />
<text x="322.60" y="670.38" font-size="7.8" text-anchor="end" >2</text>
<line x1="324.70" y1="654.58" x2="328.30" y2="654.58" stroke="#231f20" stroke-width="1" />
<text x="322.60" y="656.92" font-size="7.8" text-anchor="end" >4</text>
<line x1="324.70" y1="641.12" x2="328.30" y2="641.12" stroke="#231f20" stroke-width="1" />
<text x="322.60" y="643.46" font-size="7.8" text-anchor="end" >6</text>
<line x1="324.70" y1="627.66" x2="328.30" y2="627.66" stroke="#231f20" stroke-width="1" />
<text x="322.60" y="630.00" font-size="7.8" text-anchor="end" >8</text>
<line x1="324.70" y1="614.20" x2="328.30" y2="614.20" stroke="#231f20" stroke-width="1" />
<text x="322.60" y="616.54" font-size="7.8" text-anchor="end" >10</text>
<polygon points="359.55,614.10 360.11,615.48 361.59,615.59 360.45,616.54 360.81,617.99 359.55,617.20 358.29,617.99 358.65,616.54 357.51,615.59 358.99,615.48" fill="#231f20"/>
<polygon points="364.15,614.10 364.71,615.48 366.19,615.59 365.05,616.54 365.41,617.99 364.15,617.20 362.89,617.99 363.25,616.54 362.11,615.59 363.59,615.48" fill="#231f20"/>
<text x="352.65" y="691.08" font-size="8" text-anchor="middle" textLength="21.00" lengthAdjust="spacingAndGlyphs" >Blood</text>
<rect x="412.80" y="672.90" width="17.00" height="8.10" fill="#c5142f"/>
<rect x="429.80" y="635.91" width="16.20" height="45.09" fill="#135386"/>
<line x1="437.90" y1="635.91" x2="437.90" y2="623.38" stroke="#231f20" stroke-width="1.2" />
<line x1="433.80" y1="623.38" x2="442.00" y2="623.38" stroke="#231f20" stroke-width="1.2" />
<line x1="404.20" y1="610.00" x2="404.20" y2="681.60" stroke="#231f20" stroke-width="1.3" />
<line x1="403.60" y1="681.00" x2="454.00" y2="681.00" stroke="#231f20" stroke-width="1.3" />
<line x1="400.60" y1="681.00" x2="404.20" y2="681.00" stroke="#231f20" stroke-width="1" />
<text x="398.50" y="683.34" font-size="7.8" text-anchor="end" >0</text>
<line x1="400.60" y1="664.30" x2="404.20" y2="664.30" stroke="#231f20" stroke-width="1" />
<text x="398.50" y="666.64" font-size="7.8" text-anchor="end" >2</text>
<line x1="400.60" y1="647.60" x2="404.20" y2="647.60" stroke="#231f20" stroke-width="1" />
<text x="398.50" y="649.94" font-size="7.8" text-anchor="end" >4</text>
<line x1="400.60" y1="630.90" x2="404.20" y2="630.90" stroke="#231f20" stroke-width="1" />
<text x="398.50" y="633.24" font-size="7.8" text-anchor="end" >6</text>
<line x1="400.60" y1="614.20" x2="404.20" y2="614.20" stroke="#231f20" stroke-width="1" />
<text x="398.50" y="616.54" font-size="7.8" text-anchor="end" >8</text>
<polygon points="437.90,614.50 438.46,615.88 439.94,615.99 438.80,616.94 439.16,618.39 437.90,617.60 436.64,618.39 437.00,616.94 435.86,615.99 437.34,615.88" fill="#231f20"/>
<text x="429.40" y="691.08" font-size="8" text-anchor="middle" textLength="24.40" lengthAdjust="spacingAndGlyphs" >Spleen</text>
<rect x="463.00" y="586.80" width="5.40" height="5.40" fill="#c5142f"/>
<text x="470.50" y="592.51" font-size="7.8" textLength="25.30" lengthAdjust="spacingAndGlyphs" >No dox</text>
<rect x="463.00" y="597.60" width="5.40" height="5.40" fill="#135386"/>
<text x="471.00" y="603.41" font-size="7.8" textLength="19.40" lengthAdjust="spacingAndGlyphs" >+ dox</text>
<rect x="0" y="0" width="520" height="1.1" fill="#000"/><rect x="0" y="0" width="1.1" height="700" fill="#000"/><rect x="518.8" y="0" width="1.2" height="700" fill="#000"/><rect x="0" y="698.5" width="520" height="1.5" fill="#000"/>
</svg>
</body></html>
